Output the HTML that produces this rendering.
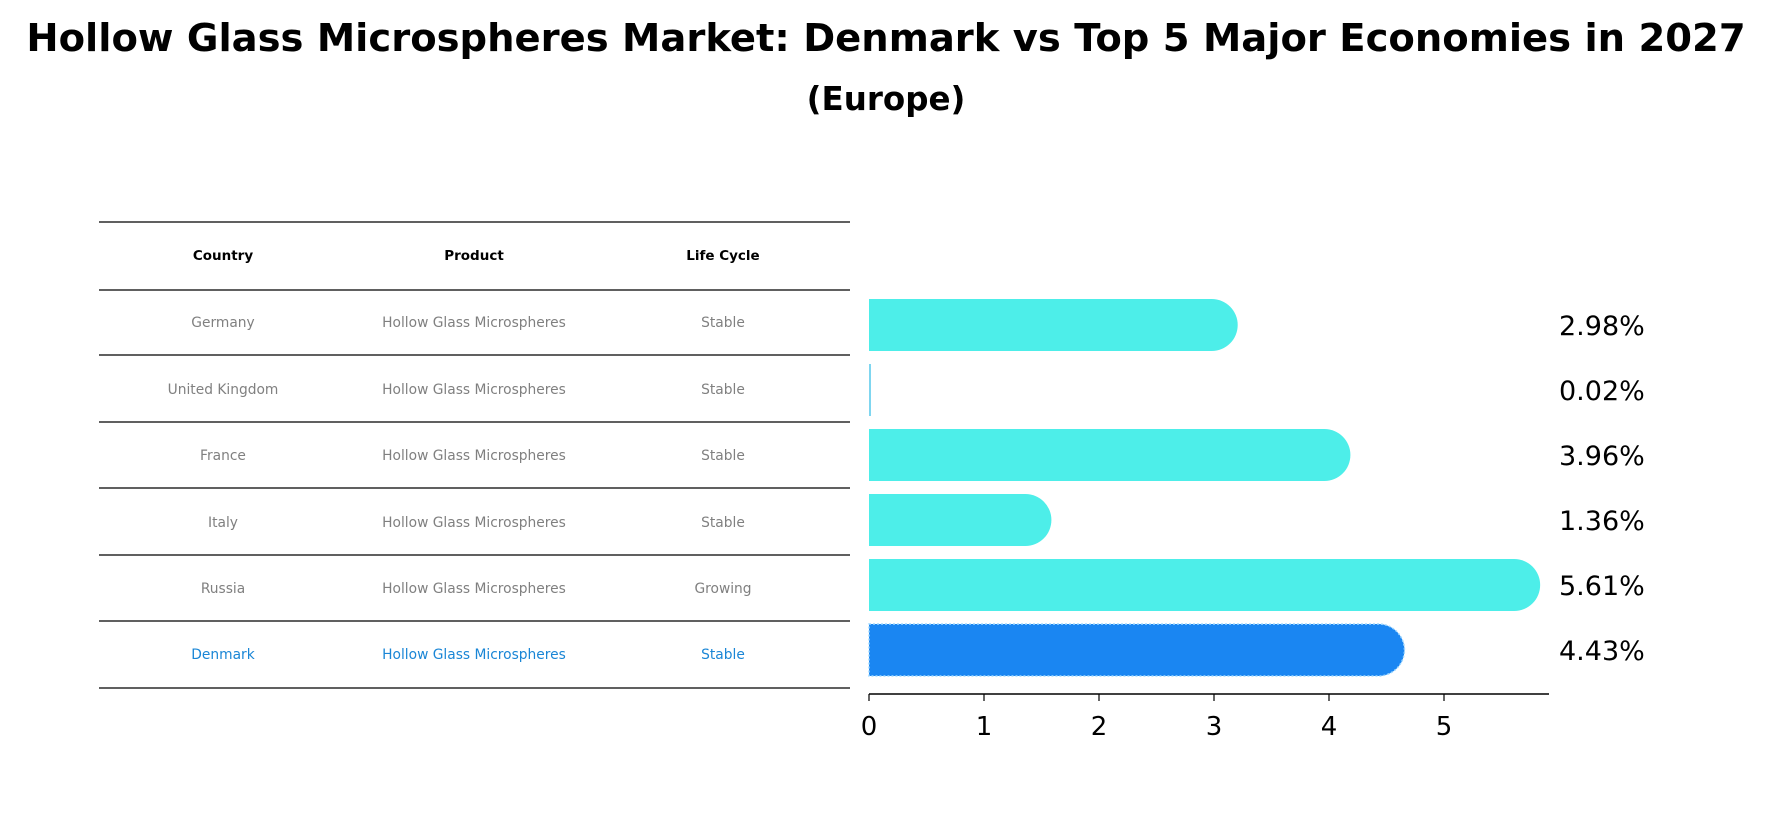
<!DOCTYPE html>
<html><head><meta charset="utf-8"><style>
body{margin:0;background:#fff;font-family:"Liberation Sans","DejaVu Sans",sans-serif}
</style></head><body>
<svg width="1773" height="823" xmlns="http://www.w3.org/2000/svg">
<text x="886" y="51" text-anchor="middle" font-size="38.5" font-weight="bold" font-family="DejaVu Sans, sans-serif">Hollow Glass Microspheres Market: Denmark vs Top 5 Major Economies in 2027</text>
<text x="886" y="110" text-anchor="middle" font-size="32.5" font-weight="bold" font-family="DejaVu Sans, sans-serif">(Europe)</text>
<g id="table"></g>
<g id="bars"></g>
</svg>
<script>
const countries=["Germany","United Kingdom","France","Italy","Russia","Denmark"];
const products=["Hollow Glass Microspheres","Hollow Glass Microspheres","Hollow Glass Microspheres","Hollow Glass Microspheres","Hollow Glass Microspheres","Hollow Glass Microspheres"];
const lifeCycles=["Stable","Stable","Stable","Stable","Growing","Stable"];
const values=[2.98,0.02,3.96,1.36,5.61,4.43];
const ticks=[0,1,2,3,4,5];
const NS="http://www.w3.org/2000/svg";
function mk(tag,attrs,parent){const e=document.createElementNS(NS,tag);for(const k in attrs)e.setAttribute(k,attrs[k]);parent.appendChild(e);return e;}
const tbl=document.getElementById('table');
const lines=[222,290,355,422,488,555,621,688];
lines.forEach((y,i)=>{const l=mk('line',{x1:99,x2:850,y1:y,y2:y,stroke:'#000','stroke-width':1.2},tbl);

});
const colX=[223,474,723];
["Country","Product","Life Cycle"].forEach((h,i)=>{const t=mk('text',{x:colX[i],y:260,'text-anchor':'middle','font-size':13.5,'font-weight':'bold','font-family':'DejaVu Sans, sans-serif'},tbl);t.textContent=h;

});
const rowY=[327,394,460,527,593,659];
function xs(v){return 869+v*115;}
function ys(i){return 325+i*65;}
countries.forEach((c,i)=>{
 const col=i===5?'#1a86d6':'#808080';
 [c,products[i],lifeCycles[i]].forEach((s,j)=>{const t=mk('text',{x:colX[j],y:rowY[i],'text-anchor':'middle','font-size':13.8,fill:col,'font-family':'DejaVu Sans, sans-serif'},tbl);t.textContent=s;
 
 });
});
const bars=document.getElementById('bars');
const h=52,r=26;
values.forEach((v,i)=>{
 const cy=ys(i),x0=xs(0),x1=xs(v);
 const fill=i===5?'#1a86f2':'#4deee9';
 const p=mk('path',{d:`M${x0},${cy-h/2} L${x1},${cy-h/2} A${r},${r} 0 0 1 ${x1},${cy+h/2} L${x0},${cy+h/2} Z`,fill:fill},bars);
 if(v<0.1){p.setAttribute('d',`M${x0},${cy-h/2} h2 v${h} h-2 Z`);p.setAttribute('fill','#7fd6f0');}
 if(i===5){p.setAttribute('stroke','#9fd8ff');p.setAttribute('stroke-width','1.5');p.setAttribute('stroke-dasharray','2 2');}
 
 
 const t=mk('text',{x:1559,y:cy+10,'font-size':27,'font-family':'DejaVu Sans, sans-serif'},bars);t.textContent=v.toFixed(2)+'%';
 
 
});
const ax=mk('line',{x1:869,x2:1549,y1:694,y2:694,stroke:'#000','stroke-width':1.5},bars);


ticks.forEach(tv=>{const x=xs(tv);
 const tk=mk('line',{x1:x,x2:x,y1:694,y2:701,stroke:'#000','stroke-width':1.2},bars);
 
 
 const t=mk('text',{x:x,y:735,'text-anchor':'middle','font-size':26,'font-family':'DejaVu Sans, sans-serif'},bars);t.textContent=tv;
 
 });
</script>
</body></html>
